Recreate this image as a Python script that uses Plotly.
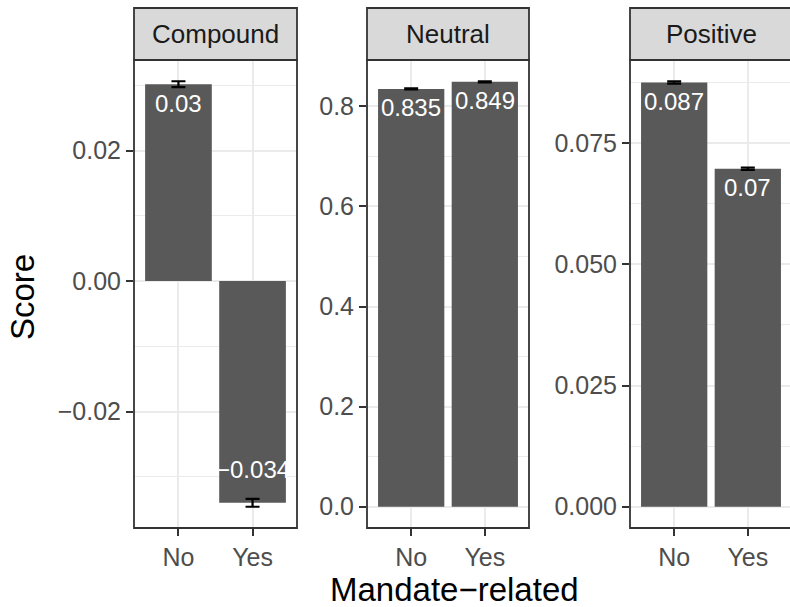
import plotly.graph_objects as go

# ---- data ----
panels = ["Compound", "Neutral", "Positive"]
categories = ["No", "Yes"]
compound_vals = [0.0302, -0.0340]
compound_err = [0.00045, 0.0006]
neutral_vals = [0.835, 0.849]
neutral_err = [0.0012, 0.0012]
positive_vals = [0.0875, 0.0697]
positive_err = [0.00025, 0.00025]
labels_compound = ["0.03", "\u22120.034"]
labels_neutral = ["0.835", "0.849"]
labels_positive = ["0.087", "0.07"]

compound_ticks = [-0.02, 0.0, 0.02]
compound_ticktext = ["\u22120.02", "0.00", "0.02"]
neutral_ticks = [0.0, 0.2, 0.4, 0.6, 0.8]
neutral_ticktext = ["0.0", "0.2", "0.4", "0.6", "0.8"]
positive_ticks = [0.0, 0.025, 0.05, 0.075]
positive_ticktext = ["0.000", "0.025", "0.050", "0.075"]

W, H = 790, 607
FONT = "Liberation Sans, Arial, Helvetica, sans-serif"
BAR = "#595959"
GRID = "#EBEBEB"
DARK = "#333333"

# panel pixel extents
px_left = [134, 367, 630]
px_right = [297, 529, 792]
plot_top, plot_bot = 60, 528
strip_top = 8

series = [
    (compound_vals, compound_err, labels_compound, compound_ticks, compound_ticktext, 0.01),
    (neutral_vals, neutral_err, labels_neutral, neutral_ticks, neutral_ticktext, 0.1),
    (positive_vals, positive_err, labels_positive, positive_ticks, positive_ticktext, 0.0125),
]

fig = go.Figure()
shapes = []
annotations = []

ydom = [(H - plot_bot) / H, (H - plot_top) / H]

for i, (vals, errs, labs, tv, tt, minor_dt) in enumerate(series):
    n = i + 1
    xa = "x" if n == 1 else f"x{n}"
    ya = "y" if n == 1 else f"y{n}"
    fig.add_trace(go.Bar(
        x=categories, y=vals, width=0.9, marker=dict(color=BAR, line=dict(width=0)),
        error_y=dict(type="data", array=errs, color="black", thickness=2.2, width=7),
        xaxis=xa, yaxis=ya, showlegend=False, hoverinfo="skip",
    ))
    lo = min(0, min(v - e for v, e in zip(vals, errs)))
    hi = max(0, max(v + e for v, e in zip(vals, errs)))
    span = hi - lo
    yr = [lo - 0.05 * span, hi + 0.05 * span]

    x0 = px_left[i] / W
    x1 = min(px_right[i] / W, 1.0)
    pw = px_right[i] - px_left[i]
    visible_w = (min(px_right[i], W) - px_left[i])
    xr_hi = -0.6 + 2.2 * visible_w / pw

    xkey = "xaxis" if n == 1 else f"xaxis{n}"
    ykey = "yaxis" if n == 1 else f"yaxis{n}"
    fig.update_layout(**{
        xkey: dict(
            domain=[x0, x1], anchor=ya, type="category", range=[-0.6, xr_hi],
            showgrid=True, gridcolor=GRID, gridwidth=1.8, zeroline=False,
            ticks="outside", ticklen=7, tickwidth=1.8, tickcolor=DARK,
            tickfont=dict(family=FONT, size=25, color="#4D4D4D"),
            showline=False, fixedrange=True,
        ),
        ykey: dict(
            domain=ydom, anchor=xa, range=yr,
            tickmode="array", tickvals=tv, ticktext=tt,
            showgrid=True, gridcolor=GRID, gridwidth=1.8, zeroline=False,
            minor=dict(dtick=minor_dt, tick0=0, showgrid=True, gridcolor=GRID, gridwidth=1.0, ticks=""),
            ticks="outside", ticklen=7, tickwidth=1.8, tickcolor=DARK,
            tickfont=dict(family=FONT, size=25, color="#4D4D4D"),
            showline=False, fixedrange=True,
        ),
    })

    # panel border
    shapes.append(dict(type="rect", xref="paper", yref="paper",
                       x0=px_left[i] / W, x1=px_right[i] / W, y0=ydom[0], y1=ydom[1],
                       line=dict(color=DARK, width=1.8), fillcolor="rgba(0,0,0,0)", layer="above"))
    # strip
    shapes.append(dict(type="rect", xref="paper", yref="paper",
                       x0=px_left[i] / W, x1=px_right[i] / W, y0=ydom[1], y1=(H - strip_top) / H,
                       line=dict(color=DARK, width=1.8), fillcolor="#D9D9D9", layer="above"))
    annotations.append(dict(
        xref="paper", yref="paper", x=(px_left[i] + px_right[i]) / 2 / W,
        y=(H - (strip_top + plot_top) / 2) / H, text=panels[i], showarrow=False,
        font=dict(family=FONT, size=26, color="#1A1A1A"), xanchor="center", yanchor="middle",
    ))
    # value labels
    for c, v, lab in zip(categories, vals, labs):
        annotations.append(dict(
            xref=xa, yref=ya, x=c, y=v, text=lab, showarrow=False,
            font=dict(family=FONT, size=24, color="white"),
            xanchor="center", yanchor="middle", yshift=-19 if v >= 0 else 33,
        ))

annotations.append(dict(xref="paper", yref="paper", x=22 / W, y=(H - 297) / H, text="Score",
                        textangle=-90, showarrow=False, font=dict(family=FONT, size=33, color="black"),
                        xanchor="center", yanchor="middle"))
annotations.append(dict(xref="paper", yref="paper", x=455 / W, y=(H - 589) / H, text="Mandate\u2212related",
                        showarrow=False, font=dict(family=FONT, size=33, color="black"),
                        xanchor="center", yanchor="middle"))

fig.update_layout(
    width=W, height=H, margin=dict(l=0, r=0, t=0, b=0),
    paper_bgcolor="white", plot_bgcolor="white",
    shapes=shapes, annotations=annotations, bargap=0.1,
    font=dict(family=FONT),
)

fig.write_html("out.html", config={"displayModeBar": False},
               post_script="document.body.style.margin='0';document.body.style.overflow='hidden';")
